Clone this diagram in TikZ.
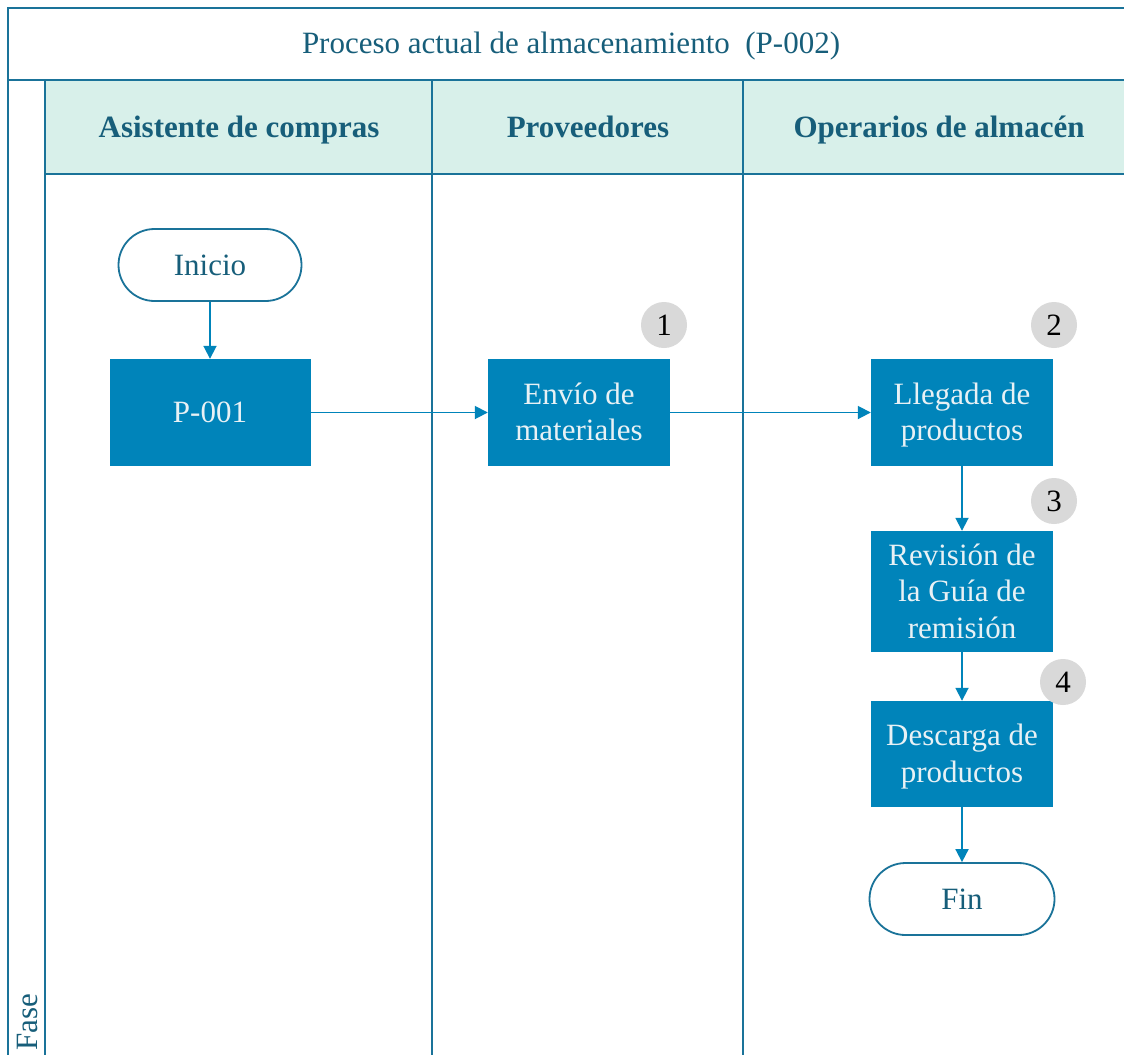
\documentclass[tikz,border=0pt]{standalone}
\usepackage{fontspec}
\setmainfont{Liberation Serif}
\usetikzlibrary{arrows.meta}
\definecolor{frameblue}{HTML}{1A7399}
\definecolor{headfill}{HTML}{D8F0EA}
\definecolor{headtext}{HTML}{175E7A}
\definecolor{boxblue}{HTML}{0084BA}
\definecolor{boxtext}{HTML}{E8F1F5}
\definecolor{badgegray}{HTML}{D9D9D9}
\begin{document}
\begin{tikzpicture}[x=1pt,y=-1pt,
  every node/.style={font=\fontsize{31}{36.5}\selectfont},
  frame/.style={draw=frameblue,line width=2pt},
  lanehead/.style={text=headtext,anchor=base,font=\fontsize{31}{36.5}\selectfont\bfseries},
  % text block: cap height above the first baseline, nothing below the last one
  lines/.style={text height={20pt+(#1-1)*36.5pt},text depth=0pt},
  proc/.style={rectangle,fill=boxblue,text=boxtext,align=center,inner sep=0pt,
    minimum width=182pt,minimum height=107pt,lines=1},
  term/.style={rectangle,draw=frameblue,line width=1.8pt,fill=white,text=headtext,
    rounded corners=36pt,minimum width=183pt,minimum height=72pt,inner sep=0pt,lines=1},
  badge/.style={circle,fill=badgegray,text=black,minimum size=46pt,inner sep=0pt},
  flow/.style={draw=boxblue,line width=1.8pt,-{Triangle[length=13pt,width=13pt]}}
]
\useasboundingbox (0,0) rectangle (1124,1055);
\fill[white] (0,0) rectangle (1124,1055);

% header band of the lanes
\fill[headfill] (45,80) rectangle (1124,174);

% frame and lane grid
\draw[frame] (1124,8) -- (8,8) -- (8,1055);
\draw[frame] (8,80) -- (1124,80);
\draw[frame] (45,80) -- (45,1055);
\draw[frame] (45,174) -- (1124,174);
\draw[frame] (432,80) -- (432,1055);
\draw[frame] (743,80) -- (743,1055);

% titles
\node[text=headtext,anchor=base] (title) at (571,53) {Proceso actual de almacenamiento\ \ (P-002)};
\node[lanehead] (lane1) at (239,137) {Asistente de compras};
\node[lanehead] (lane2) at (588,137) {Proveedores};
\node[lanehead] (lane3) at (939,137) {Operarios de almacén};
\node[text=headtext,rotate=90,anchor=base west,inner sep=0pt] (fase) at (37,1051) {Fase};

% flow nodes
\node[term] (inicio) at (210,265) {Inicio};
\node[proc,minimum width=201pt] (p001) at (210,412.5) {P-001};
\node[proc,lines=2] (envio) at (579,412.5) {Envío de\\materiales};
\node[proc,lines=2] (llegada) at (962,412.5) {Llegada de\\productos};
\node[proc,lines=3,minimum height=121pt] (revision) at (962,591.5) {Revisión de\\la Guía de\\remisión};
\node[proc,lines=2,minimum height=106pt] (descarga) at (962,754) {Descarga de\\productos};
\node[term,minimum width=185pt] (fin) at (962,899) {Fin};

% step numbers
\node[badge] (b1) at (664,325) {1};
\node[badge] (b2) at (1054,325) {2};
\node[badge] (b3) at (1054,501) {3};
\node[badge] (b4) at (1063,682) {4};

% connectors
\draw[flow] (inicio) -- (p001);
\draw[flow] (p001) -- (envio);
\draw[flow] (envio) -- (llegada);
\draw[flow] (llegada) -- (revision);
\draw[flow] (revision) -- (descarga);
\draw[flow] (descarga) -- (fin);
\end{tikzpicture}
\end{document}
